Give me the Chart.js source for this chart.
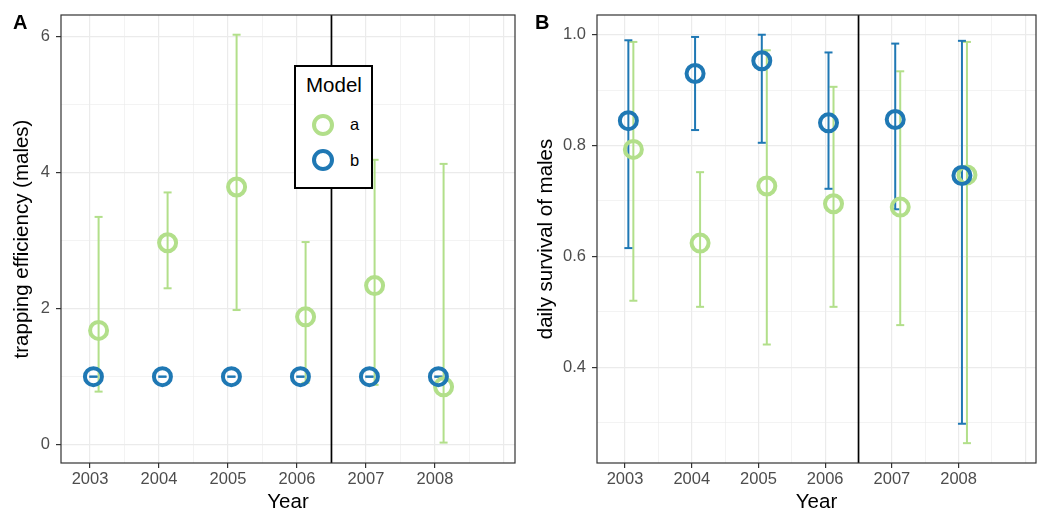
<!DOCTYPE html>
<html><head><meta charset="utf-8">
<script src="https://cdn.jsdelivr.net/npm/chart.js@4.4.1/dist/chart.umd.min.js"></script>
<style>
html,body{margin:0;padding:0;background:#fff}
body{width:1043px;height:510px;position:relative;overflow:hidden;font-family:"Liberation Sans",Arial,Helvetica,sans-serif}
canvas{position:absolute;top:0}
#cA{left:0}
#cB{left:521px}
.tag{position:absolute;font-weight:bold;font-size:20px;line-height:1;color:#000}
#legend{position:absolute;left:294px;top:65px;width:79px;height:124px;box-sizing:border-box;border:2px solid #000;background:#fff;z-index:5}
#legend .t{position:absolute;left:10px;top:8px;font-size:20.5px;line-height:1;color:#000}
#legend .c{position:absolute;width:22px;height:22px;box-sizing:border-box;border-radius:50%;border:4px solid}
#legend .l{position:absolute;left:54px;font-size:16.5px;line-height:1;color:#000}
</style>
</head><body>
<canvas id="cA" width="521" height="520"></canvas>
<canvas id="cB" width="522" height="520"></canvas>
<div class="tag" style="left:13px;top:12px">A</div>
<div class="tag" style="left:535px;top:12px">B</div>
<div id="legend">
  <div class="t">Model</div>
  <div class="c" style="left:16px;top:47px;border-color:#b2df8a"></div>
  <div class="l" style="top:49px">a</div>
  <div class="c" style="left:16px;top:82px;border-color:#1f78b4"></div>
  <div class="l" style="top:85px">b</div>
</div>
<script>
// ---- data ----
const years = [2003, 2004, 2005, 2006, 2007, 2008];
const yearLabels = ['2003', '2004', '2005', '2006', '2007', '2008'];
const modelNames = ['a', 'b'];

// Panel A: trapping efficiency (males)
const effA    = [1.68, 2.97, 3.79, 1.88, 2.34, 0.85];
const effA_lo = [0.78, 2.30, 1.98, 0.91, 0.88, 0.03];
const effA_hi = [3.35, 3.71, 6.03, 2.98, 4.19, 4.13];
const effB    = [1.00, 1.00, 1.00, 1.00, 1.00, 1.00];
const effB_lo = [1.00, 1.00, 1.00, 1.00, 1.00, 1.00];
const effB_hi = [1.00, 1.00, 1.00, 1.00, 1.00, 1.00];

// Panel B: daily survival of males
const survA    = [0.793, 0.624, 0.727, 0.695, 0.689, 0.747];
const survA_lo = [0.520, 0.509, 0.441, 0.509, 0.476, 0.263];
const survA_hi = [0.987, 0.752, 0.972, 0.906, 0.934, 0.987];
const survB    = [0.845, 0.930, 0.953, 0.841, 0.847, 0.746];
const survB_lo = [0.615, 0.828, 0.805, 0.722, 0.685, 0.298];
const survB_hi = [0.990, 0.996, 1.000, 0.968, 0.984, 0.989];

const yTicksA = [0, 2, 4, 6];
const yTickLabelsA = ['0', '2', '4', '6'];
const yMinorA = [1, 3, 5];
const yTicksB = [0.4, 0.6, 0.8, 1.0];
const yTickLabelsB = ['0.4', '0.6', '0.8', '1.0'];
const yMinorB = [0.3, 0.5, 0.7, 0.9];
const splitYear = 2006.5;

// ---- style ----
const GREEN = '#b2df8a', BLUE = '#1f78b4';
const DODGE_A = 0.125, DODGE_B = 0.05;
const FONT = '"Liberation Sans", Arial, Helvetica, sans-serif';

function pts(vals, off) { return years.map((yr, i) => ({x: yr + off, y: vals[i]})); }
function errs(lo, hi, off) {
  const out = [];
  years.forEach((yr, i) => { out.push({x: yr + off, y: lo[i]}, {x: yr + off, y: hi[i]}, {x: yr + off, y: null}); });
  return out;
}

const xGrid = [];
for (let v = 2003; v <= 2009; v += 0.5) xGrid.push(v);

function near(arr, v) { return arr.findIndex(a => Math.abs(a - v) < 1e-6); }

const framePlugin = {
  id: 'frame',
  beforeDatasetsDraw(chart) {
    const {ctx, chartArea: a, scales: {x}} = chart;
    ctx.save();
    const px = x.getPixelForValue(splitYear);
    ctx.strokeStyle = '#000'; ctx.lineWidth = 1.7;
    ctx.beginPath(); ctx.moveTo(px, a.top); ctx.lineTo(px, a.bottom); ctx.stroke();
    ctx.restore();
  },
  afterDatasetsDraw(chart) {
    const {ctx, chartArea: a} = chart;
    ctx.save();
    ctx.strokeStyle = '#333'; ctx.lineWidth = 1.2;
    ctx.strokeRect(a.left, a.top, a.right - a.left, a.bottom - a.top);
    ctx.restore();
  }
};

function makeChart(id, cfg) {
  const datasets = [
    {label: modelNames[1], data: pts(cfg.b, DODGE_B), order: 0, showLine: false,
     pointStyle: 'circle', pointRadius: 8.5, pointHoverRadius: 8.5, pointBorderWidth: 4,
     pointBorderColor: BLUE, pointBackgroundColor: 'rgba(0,0,0,0)'},
    {label: modelNames[0], data: pts(cfg.a, DODGE_A), order: 1, showLine: false,
     pointStyle: 'circle', pointRadius: 8.5, pointHoverRadius: 8.5, pointBorderWidth: 4,
     pointBorderColor: GREEN, pointBackgroundColor: 'rgba(0,0,0,0)'},
    {label: 'b err', data: errs(cfg.bLo, cfg.bHi, DODGE_B), order: 2, showLine: true, spanGaps: false,
     borderColor: BLUE, borderWidth: 2, pointStyle: 'line', pointRadius: 4, pointHoverRadius: 4,
     pointBorderWidth: 2, pointBorderColor: BLUE},
    {label: 'a err', data: errs(cfg.aLo, cfg.aHi, DODGE_A), order: 3, showLine: true, spanGaps: false,
     borderColor: GREEN, borderWidth: 2, pointStyle: 'line', pointRadius: 4, pointHoverRadius: 4,
     pointBorderWidth: 2, pointBorderColor: GREEN}
  ];
  return new Chart(document.getElementById(id), {
    type: 'scatter',
    data: {datasets},
    plugins: [framePlugin],
    options: {
      responsive: false, animation: false, devicePixelRatio: 1, events: [],
      layout: {autoPadding: false, padding: {left: 0, right: cfg.padRight, top: 15, bottom: 0}},
      plugins: {legend: {display: false}, tooltip: {enabled: false}},
      scales: {
        x: {
          type: 'linear', min: 2002.58, max: 2009.16,
          afterBuildTicks: s => { s.ticks = xGrid.map(v => ({value: v})); },
          afterFit: s => { s.height = 57; s.paddingLeft = 0; s.paddingRight = 0; },
          border: {display: false},
          grid: {
            color: '#ebebeb',
            lineWidth: c => Number.isInteger(c.tick.value) ? 1.2 : 0.6,
            drawTicks: true, tickLength: 5,
            tickColor: c => near(years, c.tick.value) >= 0 ? '#333' : 'rgba(0,0,0,0)'
          },
          ticks: {
            autoSkip: false, maxRotation: 0, padding: 2, color: '#4d4d4d',
            font: {family: FONT, size: 16.5},
            callback: v => { const i = near(years, v); return i >= 0 ? yearLabels[i] : ''; }
          },
          title: {display: true, text: 'Year', color: '#000', font: {family: FONT, size: 20.5},
                  padding: {top: 0, bottom: 5}}
        },
        y: {
          type: 'linear', min: cfg.yMin, max: cfg.yMax,
          afterBuildTicks: s => { s.ticks = cfg.yMajor.concat(cfg.yMinor).sort((p, q) => p - q).map(v => ({value: v})); },
          afterFit: s => { s.width = cfg.yWidth; s.paddingTop = 0; s.paddingBottom = 0; },
          border: {display: false},
          grid: {
            color: '#ebebeb',
            lineWidth: c => near(cfg.yMajor, c.tick.value) >= 0 ? 1.2 : 0.6,
            drawTicks: true, tickLength: 5,
            tickColor: c => near(cfg.yMajor, c.tick.value) >= 0 ? '#333' : 'rgba(0,0,0,0)'
          },
          ticks: {
            autoSkip: false, padding: 6, color: '#4d4d4d',
            font: {family: FONT, size: 16.5},
            callback: v => { const i = near(cfg.yMajor, v); return i >= 0 ? cfg.yLabels[i] : ''; }
          },
          title: {display: true, text: cfg.yTitle, color: '#000', font: {family: FONT, size: 20.5},
                  padding: {top: cfg.titlePad, bottom: 0}}
        }
      }
    }
  });
}

makeChart('cA', {
  a: effA, aLo: effA_lo, aHi: effA_hi, b: effB, bLo: effB_lo, bHi: effB_hi,
  yMin: -0.27, yMax: 6.32, yMajor: yTicksA, yMinor: yMinorA, yLabels: yTickLabelsA,
  yTitle: 'trapping efficiency (males)', yWidth: 61, padRight: 6, titlePad: 10
});
makeChart('cB', {
  a: survA, aLo: survA_lo, aHi: survA_hi, b: survB, bLo: survB_lo, bHi: survB_hi,
  yMin: 0.2272, yMax: 1.0356, yMajor: yTicksB, yMinor: yMinorB, yLabels: yTickLabelsB,
  yTitle: 'daily survival of males', yWidth: 76, padRight: 7, titlePad: 13
});
</script>
</body></html>
